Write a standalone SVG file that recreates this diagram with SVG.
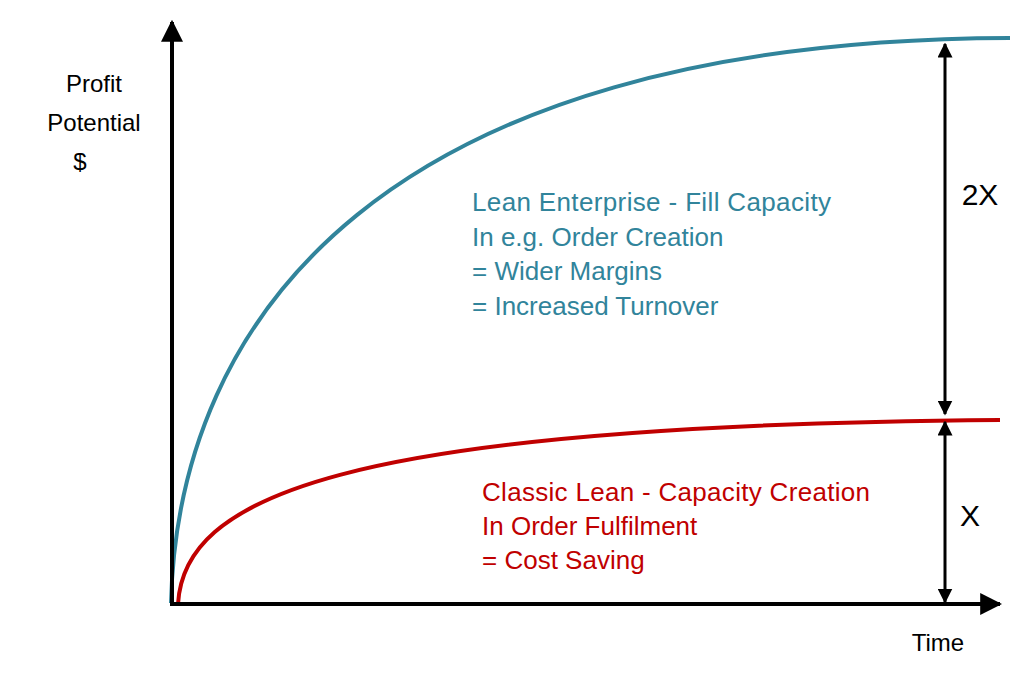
<svg xmlns="http://www.w3.org/2000/svg" width="1024" height="680" viewBox="0 0 1024 680">
<defs>
<marker id="ah" viewBox="0 0 10 10" refX="9" refY="5" markerWidth="5.5" markerHeight="5.5" orient="auto-start-reverse"><path d="M0,0 L10,5 L0,10 z" fill="#000"/></marker>
<marker id="ah2" viewBox="0 0 10 10" refX="9" refY="5" markerWidth="5" markerHeight="5" orient="auto-start-reverse"><path d="M0,0 L10,5 L0,10 z" fill="#000"/></marker>
<style>
text{font-family:"Liberation Sans",Arial,sans-serif;font-size:24px}
.b{fill:#31849b;font-size:26px}.r{fill:#c00000;font-size:26px}.big{font-size:30px}
</style>
</defs>
<rect width="1024" height="680" fill="#fff"/>
<g id="curves" fill="none" stroke-width="4">
<path id="blue" d="M171,603 C 178,320 380,40 1010,38" stroke="#31849b"/>
<path id="red" d="M178,604 C 184,500 330,425 1000,420" stroke="#c00000"/>
</g>
<g id="connectors" stroke="#000" fill="none">
<line x1="172" y1="606" x2="172" y2="22" stroke-width="4" marker-end="url(#ah)"/>
<line x1="170" y1="604" x2="1000" y2="604" stroke-width="4" marker-end="url(#ah)"/>
<line x1="945" y1="414" x2="945" y2="44" stroke-width="3" marker-start="url(#ah2)" marker-end="url(#ah2)"/>
<line x1="945" y1="602" x2="945" y2="422" stroke-width="3" marker-start="url(#ah2)" marker-end="url(#ah2)"/>
</g>
<g id="labels">
<text x="94" y="92" text-anchor="middle">Profit</text>
<text x="94" y="131" text-anchor="middle">Potential</text>
<text x="80" y="170" text-anchor="middle">$</text>
<text x="938" y="651" text-anchor="middle">Time</text>
<text class="big" x="980" y="205" text-anchor="middle">2X</text>
<text class="big" x="970" y="526" text-anchor="middle">X</text>
<text class="b" x="472" y="211" textLength="359">Lean Enterprise - Fill Capacity</text>
<text class="b" x="472" y="246">In e.g. Order Creation</text>
<text class="b" x="472" y="280">= Wider Margins</text>
<text class="b" x="472" y="315">= Increased Turnover</text>
<text class="r" x="482" y="501" textLength="388">Classic Lean - Capacity Creation</text>
<text class="r" x="482" y="535">In Order Fulfilment</text>
<text class="r" x="482" y="569">= Cost Saving</text>
</g>
</svg>
